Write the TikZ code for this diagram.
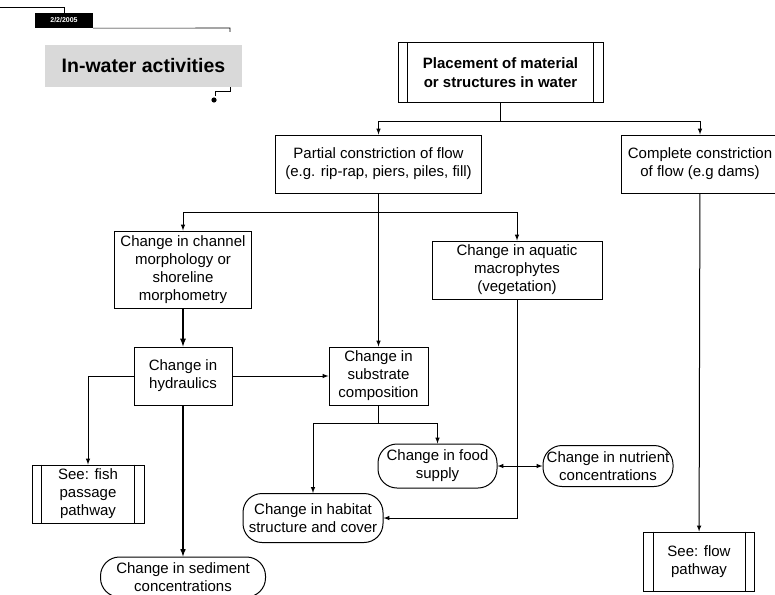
\documentclass[tikz,border=0pt]{standalone}
\usepackage{fontspec}
\setmainfont{Liberation Sans}
\usetikzlibrary{arrows,calc}
\tikzset{
    block/.style = {draw, rectangle, line width=1pt,
        inner sep=1pt, align=center, font=\fontsize{15}{18}\selectfont},
    rblock/.style = {block, rounded corners=19pt},
    pblock/.style = {block},
    junction/.style = {coordinate},
    arrow/.style={draw, line width=1pt, -latex}
}
\begin{document}
\begin{tikzpicture}[x=1pt, y=-1pt, >=latex]
        \useasboundingbox (0,0) rectangle (775,594);
        % header
        \node [fill=black, text=white, font=\fontsize{7}{8}\bfseries, minimum width=58pt, minimum height=15pt, inner sep=0pt] (date) at (64,20.5) {2/2/2005};
        \draw [line width=0.6pt] (0,7) -| (date.north);
        \draw [line width=0.6pt] (date.south east) -- (230,28) -- (230,32);
        \node [fill=black!15, font=\fontsize{19.5}{22}\bfseries\selectfont, minimum width=197pt, minimum height=42pt, inner sep=0pt] (title) at (143.5,66) {In-water activities};
        \draw [line width=0.6pt] (title.south east) ++(-12,0) -- ++(0,4) -- ++(-15,0) -- ++(0,5);
        \fill (214,100) circle (2.6pt);
        % boxes
        \node [pblock, font=\fontsize{15}{19}\bfseries, minimum width=205pt, minimum height=59pt] (placement) at (500.5,72.5) {Placement of material\\or structures in water};
        \node [block, minimum width=206pt, minimum height=58pt] (partial) at (378.5,164) {Partial constriction of flow\\(e.g. rip-rap, piers, piles, fill)};
        \node [block, minimum width=158pt, minimum height=58pt] (complete) at (700,164) {Complete constriction\\of flow (e.g dams)};
        \node [block, minimum width=137pt, minimum height=77pt] (channel) at (183,269.5) {Change in channel\\morphology or\\shoreline\\morphometry};
        \node [block, minimum width=170pt, minimum height=58pt] (aquatic) at (517,270) {Change in aquatic\\macrophytes\\(vegetation)};
        \node [block, minimum width=98pt, minimum height=58pt] (hydraulics) at (183,376) {Change in\\hydraulics};
        \node [block, minimum width=99pt, minimum height=58pt] (substrate) at (378.5,376) {Change in\\substrate\\composition};
        \node [pblock, minimum width=112pt, minimum height=58pt] (fish) at (88,494) {See: fish\\passage\\pathway};
        \node [rblock, minimum width=165pt, minimum height=40pt] (sediment) at (183,577) {Change in sediment\\concentrations};
        \node [rblock, minimum width=140pt, minimum height=49pt] (habitat) at (313,518) {Change in habitat\\structure and cover};
        \node [rblock, minimum width=119pt, minimum height=44pt] (food) at (437.5,466) {Change in food\\supply};
        \node [rblock, minimum width=130pt, minimum height=41pt] (nutrient) at (608,466) {Change in nutrient\\concentrations};
        \node [pblock, minimum width=111pt, minimum height=59pt] (flow) at (699,561.5) {See: flow\\pathway};
        \foreach \n in {placement,fish,flow}
            \draw [line width=1pt] ([xshift=10pt]\n.north west) -- ([xshift=10pt]\n.south west)
                ([xshift=-10pt]\n.north east) -- ([xshift=-10pt]\n.south east);
        % connectors
        \node [junction] (j1) at (placement.south |- 0,121) {};
        \node [junction] (j2) at (partial.south |- 0,212) {};
        \node [junction] (j3) at (substrate.south |- 0,423) {};
        \draw [line width=1pt] (placement) -- (j1);
        \draw [arrow] (j1) -| (partial.north);
        \draw [arrow] (j1) -| (complete.north);
        \draw [arrow] (partial) -- (substrate);
        \draw [arrow] (j2) -| (channel.north);
        \draw [arrow] (j2) -| (aquatic.north);
        \draw [arrow, line width=1.7pt] (channel) -- (hydraulics);
        \draw [arrow] (hydraulics) -- (substrate);
        \draw [arrow] (hydraulics.west) -| (fish.north);
        \draw [arrow, line width=1.5pt] (hydraulics) -- (sediment);
        \draw [line width=1pt] (substrate) -- (j3);
        \draw [arrow] (j3) -| (habitat.north);
        \draw [arrow] (j3) -| (food.north);
        \draw [arrow, latex-latex] (food) -- (nutrient);
        \draw [arrow] (aquatic.south) |- (habitat.east);
        \draw [arrow] (complete) -- (flow);
    \end{tikzpicture}
\end{document}
